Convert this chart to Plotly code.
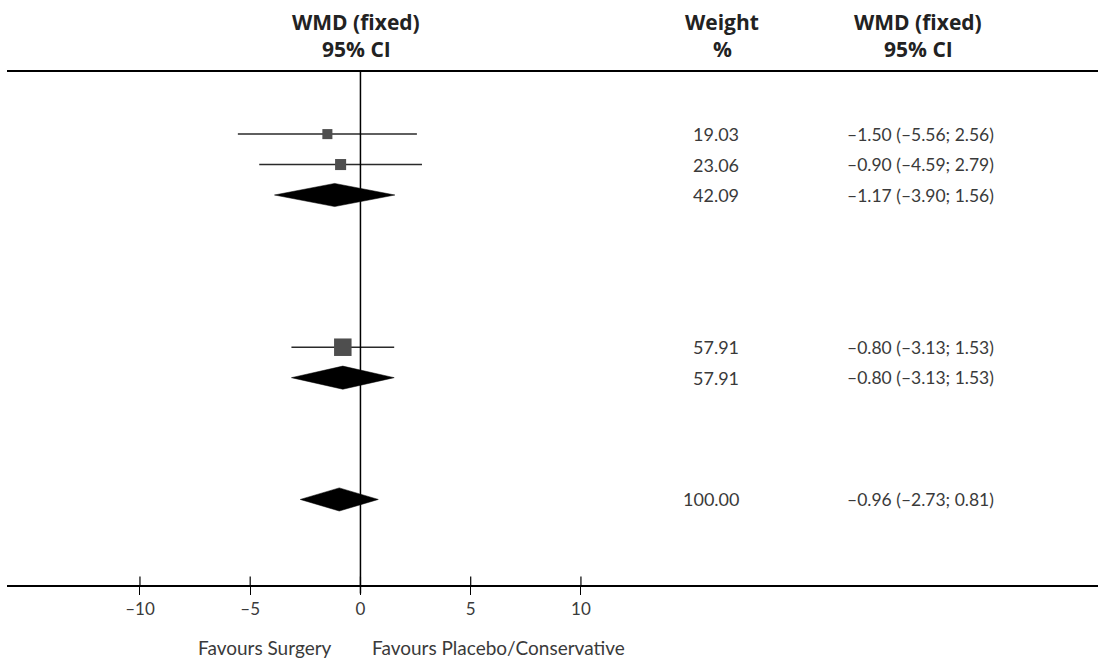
import plotly.graph_objects as go
import math

# ---- data ----
study_rows = [0, 1, 7]
study_est = [-1.50, -0.90, -0.80]
study_lo = [-5.56, -4.59, -3.13]
study_hi = [2.56, 2.79, 1.53]
study_weight = [19.03, 23.06, 57.91]

pooled_rows = [2, 8, 12]
pooled_est = [-1.17, -0.80, -0.96]
pooled_lo = [-3.90, -3.13, -2.73]
pooled_hi = [1.56, 1.53, 0.81]
pooled_weight = [42.09, 57.91, 100.00]

tick_vals = [-10, -5, 0, 5, 10]
tick_text = ["–10", "–5", "0", "5", "10"]

FONT = "Lato"
HFONT = "Open Sans"
TXT = "#3a3a3a"

def fmt(v):
    return f"{v:.2f}".replace("-", "–")

fig = go.Figure()

# CI lines for studies
for r, lo, hi in zip(study_rows, study_lo, study_hi):
    fig.add_trace(go.Scatter(x=[lo, hi], y=[r, r], mode="lines",
                             line=dict(color="#2a2a2a", width=1.5),
                             hoverinfo="skip", showlegend=False))

# study squares
fig.add_trace(go.Scatter(x=study_est, y=study_rows, mode="markers",
                         marker=dict(symbol="square", color="#4e4e4e", opacity=1,
                                     size=[2.3 * math.sqrt(w) for w in study_weight],
                                     line=dict(width=0)),
                         showlegend=False))

# pooled diamonds
h = 0.38
for r, e, lo, hi in zip(pooled_rows, pooled_est, pooled_lo, pooled_hi):
    fig.add_trace(go.Scatter(x=[lo, e, hi, e, lo], y=[r, r - h, r, r + h, r],
                             mode="lines", fill="toself", fillcolor="black",
                             line=dict(color="black", width=0.5),
                             hoverinfo="skip", showlegend=False))

# text columns
x_weight = 17.26
x_ci = 21.97
for r, e, lo, hi, w in list(zip(study_rows, study_est, study_lo, study_hi, study_weight)) + \
        list(zip(pooled_rows, pooled_est, pooled_lo, pooled_hi, pooled_weight)):
    fig.add_annotation(x=x_weight, y=r, xref="x", yref="y", text=f"{w:.2f}",
                       xanchor="right", yanchor="middle", showarrow=False,
                       font=dict(family=FONT, size=18, color=TXT))
    fig.add_annotation(x=x_ci, y=r, xref="x", yref="y",
                       text=f"{fmt(e)} ({fmt(lo)}; {fmt(hi)})",
                       xanchor="left", yanchor="middle", showarrow=False,
                       font=dict(family=FONT, size=17.5, color=TXT))

# headers
hdr = dict(family=HFONT, size=21, color="#222222", weight="bold")
wmd = "WMD (f\u200cixed)"
for x, t1, t2 in [(-0.2, wmd, "95% CI"), (16.4, "Weight", "%"), (25.3, wmd, "95% CI")]:
    fig.add_annotation(x=x, y=1.0975, xref="x", yref="paper", text=t1, showarrow=False,
                       xanchor="center", yanchor="middle", font=hdr)
    fig.add_annotation(x=x, y=1.0448, xref="x", yref="paper", text=t2, showarrow=False,
                       xanchor="center", yanchor="middle", font=hdr)

# footer
fig.add_annotation(x=-1.2, y=-0.122, xref="x", yref="paper", text="Favours Surgery",
                   xanchor="right", yanchor="middle", showarrow=False,
                   font=dict(family=FONT, size=19, color=TXT))
fig.add_annotation(x=0.45, y=-0.122, xref="x", yref="paper", text="Favours Placebo/Conservative",
                   xanchor="left", yanchor="middle", showarrow=False,
                   font=dict(family=FONT, size=19, color=TXT))

# zero line and upper halves of ticks
fig.add_shape(type="line", x0=0, x1=0, y0=-0.0166, y1=1, xref="x", yref="paper",
              line=dict(color="black", width=1.5))
for v in tick_vals:
    fig.add_shape(type="line", x0=v, x1=v, y0=0, y1=0.0166, xref="x", yref="paper",
                  line=dict(color="black", width=1.2))

fig.update_layout(
    width=1098, height=665,
    margin=dict(l=7, r=0, t=72, b=80),
    paper_bgcolor="white", plot_bgcolor="white",
    font=dict(family=FONT, size=17, color=TXT),
)
fig.update_xaxes(range=[-16.03, 33.45], showgrid=False, zeroline=False,
                 showline=True, linecolor="black", linewidth=1.5, mirror=True,
                 ticks="outside", ticklen=8, tickwidth=1.2, tickcolor="black",
                 tickvals=tick_vals, ticktext=tick_text,
                 tickfont=dict(family=FONT, size=17, color=TXT))
fig.update_yaxes(range=[14.81, -2.04], showgrid=False, zeroline=False,
                 showline=False, showticklabels=False)

fig.write_html("out.html")
